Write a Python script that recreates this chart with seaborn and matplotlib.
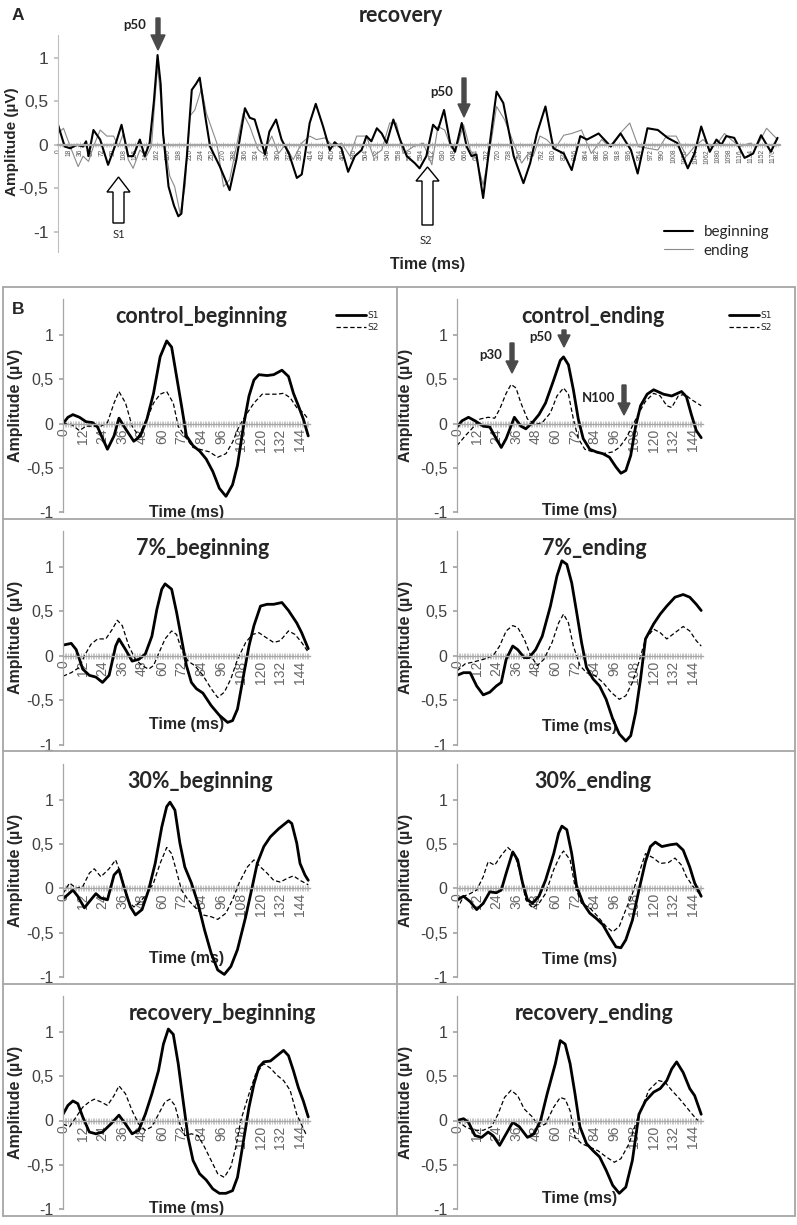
import matplotlib
matplotlib.use('Agg')
import matplotlib.pyplot as plt
from matplotlib.transforms import Affine2D
from matplotlib.patches import FancyArrow
from matplotlib.lines import Line2D
import seaborn as sns

W, H = 797, 1225

# ---- panel A: recovery, whole trial (ms, µV)
a_beg_t = [0, 11, 20, 31, 41, 46, 50, 58, 69, 82, 93, 104, 115, 123, 134, 142, 150, 157, 163, 168,
           172, 181, 190, 197, 202, 211, 219, 226, 232, 241, 249, 265, 281, 292, 306, 314, 322, 339, 346, 357,
           366, 378, 391, 399, 404, 412, 422, 434, 445, 453, 464, 475, 486, 497, 505, 513, 522, 530, 538, 549,
           560, 571, 584, 592, 603, 614, 622, 632, 642, 650, 661, 669, 677, 685, 696, 707, 718, 729, 746, 762,
           773, 784, 798, 811, 828, 841, 855, 866, 885, 905, 921, 938, 949, 965, 982, 998, 1014, 1031, 1042, 1053,
           1067, 1078, 1086, 1094, 1107, 1124, 1138, 1151, 1167, 1178]
a_beg_v = [0.23, -0.02, -0.04, 0.0, -0.02, 0.04, -0.13, 0.17, 0.06, -0.23, -0.02, 0.23, -0.13, -0.13, 0.06, -0.13, 0.02, 0.5, 1.03, 0.7,
           0.13, -0.48, -0.7, -0.82, -0.79, -0.13, 0.63, 0.7, 0.77, 0.33, -0.02, -0.25, -0.52, -0.17, 0.42, 0.31, 0.29, -0.11, 0.15, 0.29,
           0.06, -0.1, -0.38, -0.34, -0.13, 0.25, 0.47, 0.21, -0.06, 0.03, -0.04, -0.31, -0.13, -0.06, 0.1, 0.04, 0.19, 0.13, 0.02, 0.29,
           0.06, -0.13, -0.21, -0.27, -0.13, 0.23, 0.17, 0.40, 0.02, -0.08, 0.25, -0.02, -0.13, -0.11, -0.61, 0.02, 0.61, 0.48, -0.13, -0.44,
           -0.21, 0.13, 0.44, -0.04, -0.1, -0.29, 0.1, 0.06, 0.13, -0.02, 0.13, -0.06, -0.33, 0.19, 0.17, 0.08, 0.02, -0.27, -0.1, 0.21,
           -0.08, 0.06, 0.0, 0.1, 0.08, -0.15, -0.1, 0.11, -0.08, 0.08]
a_end_t = [0, 9, 20, 33, 41, 50, 58, 69, 80, 91, 99, 107, 115, 123, 134, 145, 153, 158, 163, 168,
           172, 183, 191, 200, 208, 216, 224, 235, 243, 260, 271, 281, 292, 303, 314, 328, 336, 350, 361, 372,
           385, 399, 412, 423, 437, 451, 464, 478, 489, 505, 516, 530, 543, 554, 565, 582, 598, 612, 622, 633,
           644, 655, 664, 675, 685, 696, 707, 718, 731, 748, 759, 770, 778, 789, 800, 814, 828, 841, 857, 873,
           890, 903, 920, 936, 950, 966, 982, 996, 1012, 1029, 1042, 1056, 1069, 1080, 1091, 1102, 1116, 1133, 1144, 1160,
           1178]
a_end_v = [0.13, 0.19, -0.02, -0.25, -0.13, -0.19, -0.02, 0.17, 0.1, 0.1, -0.02, 0.13, -0.17, -0.27, -0.06, -0.13, -0.02, 0.45, 0.9, 0.55,
           0.13, -0.36, -0.48, -0.79, -0.48, 0.33, 0.4, 0.65, 0.36, 0.02, -0.48, -0.4, -0.02, 0.36, 0.21, -0.06, -0.1, 0.1, -0.1, 0.0,
           -0.17, 0.02, 0.1, 0.06, 0.08, -0.02, 0.02, -0.13, 0.1, 0.1, -0.13, -0.06, 0.25, 0.25, -0.1, -0.02, 0.02, -0.23, 0.21, 0.17,
           -0.04, 0.02, 0.23, -0.06, -0.17, -0.46, -0.06, 0.44, 0.29, -0.02, -0.21, -0.1, -0.13, 0.1, 0.06, -0.04, 0.11, 0.13, 0.17, -0.1,
           0.06, -0.02, 0.13, 0.25, -0.02, -0.04, -0.06, 0.1, 0.1, -0.13, -0.02, 0.06, -0.02, 0.02, 0.13, 0.06, -0.02, 0.02, -0.02, 0.19,
           0.06]
a_ticks = list(range(0, 1171, 18))

# ---- panel B: S1 / S2 responses (ms, µV)
cb_s1_t = [0, 3, 6, 10, 14, 18, 21, 27, 31, 34, 38, 43, 47, 51, 55, 59, 63, 66, 69, 72, 75, 79, 83, 87, 91, 95, 99, 103, 106, 110, 113, 116, 119, 124, 128, 133, 137, 140, 143, 146, 149]
cb_s1_v = [0, 0.07, 0.10, 0.07, 0.02, 0.01, -0.04, -0.29, -0.14, 0.06, -0.06, -0.2, -0.14, 0.05, 0.34, 0.75, 0.93, 0.86, 0.53, 0.2, -0.14, -0.25, -0.31, -0.4, -0.54, -0.73, -0.82, -0.69, -0.47, 0.01, 0.31, 0.49, 0.55, 0.54, 0.55, 0.6, 0.53, 0.34, 0.2, 0.05, -0.14]
cb_s2_t = [0, 5, 10, 14, 18, 22, 27, 31, 34, 38, 42, 46, 51, 55, 59, 63, 67, 70, 75, 79, 83, 89, 94, 99, 103, 107, 112, 116, 121, 126, 130, 134, 138, 142, 146, 149]
cb_s2_v = [0, -0.01, -0.08, -0.03, -0.03, -0.04, 0.01, 0.23, 0.36, 0.23, -0.03, -0.14, 0.05, 0.23, 0.33, 0.36, 0.23, -0.03, -0.17, -0.27, -0.29, -0.32, -0.38, -0.34, -0.21, -0.03, 0.12, 0.23, 0.33, 0.33, 0.33, 0.34, 0.29, 0.18, 0.12, 0.05]

ce_s1_t = [0, 3, 7, 11, 16, 20, 23, 27, 30, 35, 39, 42, 46, 50, 54, 59, 63, 65, 68, 71, 74, 77, 81, 85, 89, 93, 97, 100, 103, 106, 109, 112, 116, 120, 126, 131, 137, 140, 143, 146, 149]
ce_s1_v = [-0.04, 0.03, 0.07, 0.03, -0.03, -0.04, -0.14, -0.27, -0.17, 0.07, -0.03, -0.06, 0.01, 0.1, 0.23, 0.49, 0.71, 0.75, 0.66, 0.38, 0.05, -0.17, -0.29, -0.32, -0.34, -0.38, -0.49, -0.56, -0.53, -0.36, -0.03, 0.2, 0.33, 0.38, 0.33, 0.31, 0.36, 0.3, 0.1, -0.08, -0.16]
ce_s2_t = [0, 5, 10, 14, 19, 23, 26, 30, 33, 36, 39, 43, 48, 52, 57, 61, 65, 68, 71, 74, 78, 83, 89, 95, 99, 103, 107, 111, 115, 120, 124, 128, 131, 135, 139, 143, 149]
ce_s2_v = [-0.25, -0.14, -0.04, 0.05, 0.07, 0.06, 0.16, 0.34, 0.44, 0.4, 0.23, 0.05, -0.01, 0.01, 0.12, 0.31, 0.4, 0.33, 0.05, -0.17, -0.29, -0.32, -0.34, -0.32, -0.27, -0.17, -0.03, 0.12, 0.25, 0.34, 0.31, 0.2, 0.18, 0.31, 0.33, 0.27, 0.2]

p7b_s1_t = [0, 5, 8, 12, 16, 20, 24, 28, 32, 34, 38, 42, 46, 50, 54, 57, 60, 62, 66, 69, 72, 75, 78, 81, 85, 90, 95, 100, 103, 106, 110, 113, 116, 120, 124, 128, 133, 137, 142, 145, 149]
p7b_s1_v = [0.12, 0.14, 0.07, -0.15, -0.22, -0.24, -0.3, -0.22, 0.11, 0.19, 0.07, -0.06, -0.04, 0.02, 0.22, 0.52, 0.75, 0.81, 0.75, 0.49, 0.19, -0.11, -0.3, -0.37, -0.42, -0.56, -0.67, -0.75, -0.73, -0.6, -0.19, 0.11, 0.34, 0.56, 0.58, 0.58, 0.6, 0.51, 0.37, 0.26, 0.08]
p7b_s2_t = [0, 5, 10, 13, 17, 21, 26, 30, 33, 36, 40, 44, 48, 52, 55, 58, 62, 66, 69, 72, 76, 80, 85, 90, 94, 98, 102, 106, 111, 115, 119, 123, 128, 132, 137, 141, 145, 149]
p7b_s2_v = [-0.23, -0.19, -0.13, 0, 0.13, 0.19, 0.19, 0.3, 0.4, 0.34, 0.11, -0.04, -0.11, -0.15, -0.11, 0.02, 0.19, 0.28, 0.24, 0.07, -0.06, -0.11, -0.22, -0.37, -0.47, -0.41, -0.26, -0.04, 0.15, 0.24, 0.26, 0.21, 0.15, 0.17, 0.28, 0.24, 0.15, 0.04]

p7e_s1_t = [0, 4, 8, 12, 16, 20, 24, 27, 30, 34, 37, 41, 44, 48, 52, 57, 61, 64, 67, 70, 73, 76, 79, 83, 87, 91, 95, 99, 103, 106, 109, 112, 115, 120, 124, 128, 133, 138, 142, 146, 149]
p7e_s1_v = [-0.22, -0.19, -0.19, -0.34, -0.44, -0.41, -0.34, -0.3, -0.04, 0.11, 0.07, -0.02, -0.02, 0.07, 0.22, 0.56, 0.9, 1.07, 1.03, 0.82, 0.49, 0.15, -0.13, -0.26, -0.34, -0.49, -0.71, -0.88, -0.96, -0.9, -0.64, -0.26, 0.19, 0.36, 0.47, 0.56, 0.66, 0.69, 0.66, 0.58, 0.51]
p7e_s2_t = [0, 5, 10, 16, 22, 26, 30, 34, 37, 41, 45, 49, 53, 58, 62, 65, 68, 71, 75, 79, 84, 89, 94, 99, 103, 107, 111, 115, 120, 124, 128, 133, 138, 142, 146, 149]
p7e_s2_v = [-0.17, -0.09, -0.07, -0.04, 0, 0.11, 0.28, 0.34, 0.32, 0.19, 0, -0.11, -0.04, 0.15, 0.37, 0.47, 0.37, 0.11, -0.11, -0.19, -0.22, -0.3, -0.41, -0.49, -0.45, -0.3, -0.07, 0.19, 0.3, 0.26, 0.19, 0.26, 0.33, 0.28, 0.17, 0.11]

p30b_s1_t = [0, 3, 6, 9, 13, 16, 20, 23, 27, 31, 34, 37, 41, 44, 48, 52, 56, 60, 63, 65, 68, 71, 74, 78, 82, 86, 90, 94, 98, 102, 106, 111, 115, 118, 122, 126, 131, 135, 137, 139, 142, 144, 147, 149]
p30b_s1_v = [-0.12, -0.07, -0.02, -0.09, -0.22, -0.15, -0.06, -0.11, -0.13, 0.15, 0.21, 0.02, -0.21, -0.3, -0.24, -0.02, 0.28, 0.69, 0.92, 0.97, 0.88, 0.51, 0.24, 0.06, -0.17, -0.47, -0.73, -0.92, -0.97, -0.88, -0.69, -0.32, 0.02, 0.28, 0.47, 0.58, 0.67, 0.73, 0.76, 0.73, 0.51, 0.28, 0.15, 0.09]
p30b_s2_t = [0, 4, 8, 12, 16, 19, 23, 28, 32, 35, 39, 43, 47, 51, 55, 59, 63, 66, 69, 72, 76, 80, 85, 90, 94, 99, 103, 107, 112, 116, 120, 124, 128, 132, 136, 140, 144, 149]
p30b_s2_v = [-0.06, 0.06, 0, 0.02, 0.17, 0.22, 0.13, 0.22, 0.32, 0.17, -0.13, -0.21, -0.15, -0.06, 0.06, 0.28, 0.46, 0.39, 0.19, -0.02, -0.13, -0.21, -0.3, -0.32, -0.35, -0.28, -0.13, 0.06, 0.24, 0.32, 0.24, 0.17, 0.09, 0.07, 0.11, 0.14, 0.09, 0.04]

p30e_s1_t = [0, 4, 8, 12, 16, 20, 24, 27, 30, 34, 37, 40, 43, 46, 50, 54, 59, 62, 64, 67, 70, 73, 77, 81, 85, 89, 93, 97, 100, 103, 107, 111, 115, 118, 121, 125, 130, 134, 138, 142, 145, 149]
p30e_s1_v = [-0.13, -0.09, -0.15, -0.24, -0.17, -0.04, -0.05, -0.02, 0.17, 0.41, 0.32, 0.06, -0.13, -0.17, -0.09, 0.09, 0.39, 0.62, 0.7, 0.66, 0.39, 0.02, -0.17, -0.28, -0.34, -0.41, -0.54, -0.66, -0.67, -0.58, -0.36, -0.02, 0.3, 0.47, 0.52, 0.47, 0.49, 0.5, 0.43, 0.24, 0.06, -0.09]
p30e_s2_t = [0, 4, 8, 12, 16, 19, 23, 27, 31, 35, 38, 42, 46, 50, 54, 59, 63, 65, 69, 72, 76, 81, 86, 91, 95, 99, 103, 107, 111, 115, 120, 124, 129, 133, 137, 140, 144, 148]
p30e_s2_v = [-0.24, -0.09, -0.06, -0.02, 0.13, 0.3, 0.26, 0.37, 0.46, 0.39, 0.21, -0.13, -0.22, -0.17, -0.06, 0.21, 0.37, 0.42, 0.32, 0.02, -0.17, -0.22, -0.32, -0.43, -0.49, -0.43, -0.24, -0.06, 0.17, 0.39, 0.34, 0.28, 0.29, 0.34, 0.26, 0.13, 0.02, -0.06]

recb_s1_t = [0, 3, 6, 9, 12, 16, 20, 24, 29, 34, 38, 42, 46, 50, 54, 58, 61, 64, 67, 70, 73, 76, 79, 83, 87, 91, 95, 99, 103, 106, 110, 113, 116, 119, 122, 126, 130, 134, 137, 140, 143, 146, 149]
recb_s1_v = [0.07, 0.17, 0.22, 0.19, 0.04, -0.13, -0.15, -0.13, -0.04, 0.06, -0.04, -0.15, -0.11, 0.07, 0.3, 0.56, 0.86, 1.03, 0.97, 0.64, 0.22, -0.19, -0.45, -0.6, -0.67, -0.77, -0.82, -0.82, -0.79, -0.64, -0.19, 0.15, 0.41, 0.6, 0.66, 0.67, 0.73, 0.79, 0.73, 0.56, 0.37, 0.22, 0.04]
recb_s2_t = [0, 4, 8, 12, 16, 19, 23, 27, 31, 34, 38, 42, 46, 50, 54, 58, 62, 65, 68, 71, 74, 78, 82, 86, 90, 94, 98, 102, 105, 108, 113, 117, 122, 126, 130, 134, 138, 142, 146, 148]
recb_s2_v = [-0.04, -0.07, 0.04, 0.15, 0.21, 0.24, 0.21, 0.17, 0.28, 0.39, 0.3, 0.11, -0.04, -0.11, -0.07, 0.07, 0.21, 0.24, 0.17, -0.04, -0.17, -0.15, -0.17, -0.3, -0.45, -0.6, -0.64, -0.52, -0.3, 0, 0.3, 0.52, 0.64, 0.59, 0.51, 0.45, 0.34, 0.07, -0.09, -0.17]

rece_s1_t = [0, 4, 7, 11, 15, 19, 22, 26, 30, 34, 38, 43, 47, 51, 55, 60, 63, 66, 69, 72, 75, 79, 83, 87, 91, 95, 99, 103, 107, 111, 115, 120, 124, 128, 131, 134, 138, 142, 145, 149]
rece_s1_v = [0, 0.02, -0.02, -0.17, -0.19, -0.13, -0.17, -0.28, -0.15, -0.02, -0.07, -0.19, -0.15, 0, 0.3, 0.64, 0.9, 0.86, 0.64, 0.3, -0.07, -0.26, -0.34, -0.41, -0.56, -0.73, -0.82, -0.75, -0.45, 0.07, 0.22, 0.32, 0.36, 0.45, 0.58, 0.66, 0.54, 0.36, 0.28, 0.07]
rece_s2_t = [0, 5, 10, 16, 21, 25, 29, 33, 37, 41, 46, 50, 54, 59, 63, 66, 69, 72, 76, 81, 86, 91, 96, 100, 105, 109, 113, 117, 123, 127, 131, 136, 140, 144, 147]
rece_s2_v = [0, -0.07, -0.11, -0.11, -0.07, 0.07, 0.26, 0.34, 0.28, 0.13, 0.04, -0.07, -0.04, 0.15, 0.26, 0.24, 0.11, -0.19, -0.26, -0.3, -0.34, -0.41, -0.47, -0.43, -0.26, -0.04, 0.15, 0.34, 0.45, 0.43, 0.34, 0.24, 0.15, 0.06, 0]

b_ticks = list(range(0, 145, 12))
amp_ticks = [-1, -0.5, 0, 0.5, 1]
amp_labels = ['-1', '-0,5', '0', '0,5', '1']

panels = [
    ('control_beginning', cb_s1_t, cb_s1_v, cb_s2_t, cb_s2_v),
    ('control_ending', ce_s1_t, ce_s1_v, ce_s2_t, ce_s2_v),
    ('7%_beginning', p7b_s1_t, p7b_s1_v, p7b_s2_t, p7b_s2_v),
    ('7%_ending', p7e_s1_t, p7e_s1_v, p7e_s2_t, p7e_s2_v),
    ('30%_beginning', p30b_s1_t, p30b_s1_v, p30b_s2_t, p30b_s2_v),
    ('30%_ending', p30e_s1_t, p30e_s1_v, p30e_s2_t, p30e_s2_v),
    ('recovery_beginning', recb_s1_t, recb_s1_v, recb_s2_t, recb_s2_v),
    ('recovery_ending', rece_s1_t, rece_s1_v, rece_s2_t, rece_s2_v),
]

sns.set_theme(style='white')
plt.rcParams['font.family'] = ['Liberation Sans', 'DejaVu Sans']

fig = plt.figure(figsize=(W / 100, H / 100), dpi=100)
px = Affine2D().scale(1 / W, -1 / H).translate(0, 1) + fig.transFigure


def rect(x0, y0, x1, y1):
    return [x0 / W, 1 - y1 / H, (x1 - x0) / W, (y1 - y0) / H]


def down_arrow(x, y0, y1, hw=13, hl=13):
    fig.add_artist(FancyArrow(x, y0, 0, y1 - y0, width=4, head_width=hw, head_length=hl,
                              length_includes_head=True, color='#4a4a4a', transform=px))


GRID = '#a6a6a6'

# ================= panel A =================
axA = fig.add_axes(rect(58, 35, 780, 252))
sns.lineplot(x=a_end_t, y=a_end_v, ax=axA, color='#8a8a8a', linewidth=0.8, estimator=None, sort=False)
sns.lineplot(x=a_beg_t, y=a_beg_v, ax=axA, color='black', linewidth=1.5, estimator=None, sort=False)
axA.set_xlim(0, 1182)
axA.set_ylim(-1.23, 1.26)
for s in ['top', 'right']:
    axA.spines[s].set_visible(False)
axA.spines['bottom'].set_position(('data', 0))
axA.spines['bottom'].set_color(GRID)
axA.spines['bottom'].set_linewidth(1.6)
axA.spines['left'].set_color('#bfbfbf')
axA.spines['left'].set_linewidth(0.8)
axA.set_xticks(a_ticks)
axA.set_xticklabels([str(t) for t in a_ticks], rotation=90, fontsize=4.8, color='#555555')
axA.set_xticks(range(0, 1182, 3), minor=True)
axA.tick_params(axis='x', which='both', bottom=True, direction='inout', length=4, width=0.5,
                color=GRID, pad=1)
axA.tick_params(axis='x', which='minor', length=3, width=0.4)
axA.set_yticks(amp_ticks)
axA.set_yticklabels(amp_labels, fontsize=12.5, color='#404040')
axA.tick_params(axis='y', left=True, direction='out', length=3, color='#bfbfbf', pad=4)
axA.set_xlabel('Time (ms)', fontsize=11.5, fontweight='bold', va='center')
axA.xaxis.set_label_coords(428, 265, transform=px)
axA.set_ylabel('Amplitude (µV)', fontsize=11, fontweight='bold', va='center')
axA.yaxis.set_label_coords(12, 142, transform=px)
axA.legend(handles=[Line2D([], [], color='black', lw=1.5), Line2D([], [], color='#8a8a8a', lw=0.8)],
           labels=['beginning', 'ending'], loc='upper left', bbox_to_anchor=(664, 225),
           bbox_transform=px, frameon=False, prop={'family': 'Lato', 'size': 11},
           handlelength=1.9, handletextpad=0.7, labelspacing=0.3, borderpad=0, borderaxespad=0)

fig.text(18, 16, 'A', transform=px, fontsize=12.5, fontweight='bold', ha='center', va='center')
fig.text(401, 16, 'recovery', transform=px, fontsize=15.5, fontweight='bold', family='Lato',
         ha='center', va='center')
fig.text(135, 25, 'p50', transform=px, fontsize=9.5, fontweight='bold', family='Lato',
         ha='center', va='center', color='#222222')
down_arrow(158, 18, 50, hw=14, hl=15)
fig.text(442, 92, 'p50', transform=px, fontsize=9.5, fontweight='bold', family='Lato',
         ha='center', va='center', color='#222222')
down_arrow(464, 78, 117, hw=12, hl=13)
fig.add_artist(FancyArrow(118.5, 223, 0, -46, width=11, head_width=23, head_length=15,
                          length_includes_head=True, fc='white', ec='black', lw=1, transform=px))
fig.add_artist(FancyArrow(427.5, 225, 0, -58, width=11, head_width=23, head_length=14,
                          length_includes_head=True, fc='white', ec='black', lw=1, transform=px))
fig.text(119, 234, 'S1', transform=px, fontsize=8, family='Lato', ha='center', va='center')
fig.text(426, 240, 'S2', transform=px, fontsize=8, family='Lato', ha='center', va='center')

# ================= panel B =================
for yy in [287, 519, 751, 984, 1216]:
    fig.add_artist(Line2D([3, 795], [yy, yy], color=GRID, lw=1.3, transform=px))
for xx in [3, 397, 795]:
    fig.add_artist(Line2D([xx, xx], [287, 1216], color=GRID, lw=1.3, transform=px))
fig.text(18, 309, 'B', transform=px, fontsize=12.5, fontweight='bold', ha='center', va='center')

col_x0 = [63, 457]
col_scale = [1.646, 1.639]
row_zero = [423.5, 655.8, 888.3, 1120.5]
unit = 88.8
title_x = [[201, 593], [203, 594], [200, 593], [222, 594]]
xlab_x = [187, 580]
xlab_dy = [[88.5, 86.5], [69, 71], [70, 71], [88, 78]]
ylab_x = [16, 406]

for i, (name, t1, v1, t2, v2) in enumerate(panels):
    r, c = divmod(i, 2)
    x0 = col_x0[c]
    x1 = x0 + 150 * col_scale[c]
    z = row_zero[r]
    y0 = z - 1.4 * unit
    y1 = z + unit
    ax = fig.add_axes(rect(x0, y0, x1, y1))
    sns.lineplot(x=t2, y=v2, ax=ax, color='black', linewidth=0.9, linestyle=(0, (3.5, 2)),
                 estimator=None, sort=False)
    sns.lineplot(x=t1, y=v1, ax=ax, color='black', linewidth=2.0, estimator=None, sort=False)
    ax.set_xlim(0, 150)
    ax.set_ylim(-1, 1.4)
    for s in ['top', 'right']:
        ax.spines[s].set_visible(False)
    ax.spines['bottom'].set_position(('data', 0))
    ax.spines['bottom'].set_color(GRID)
    ax.spines['bottom'].set_linewidth(1.0)
    ax.spines['left'].set_color(GRID)
    ax.spines['left'].set_linewidth(0.9)
    ax.set_xticks(b_ticks)
    ax.set_xticklabels([str(t) for t in b_ticks], rotation=90, fontsize=10, color='#666666',
                       family=['Liberation Sans Narrow', 'Liberation Sans'])
    ax.set_xticks(range(0, 150, 1), minor=True)
    ax.tick_params(axis='x', which='both', bottom=True, direction='inout', length=5, width=0.45,
                   color=GRID, pad=1)
    ax.set_yticks(amp_ticks)
    ax.set_yticklabels(amp_labels, fontsize=11.5, color='#404040')
    ax.tick_params(axis='y', left=True, direction='out', length=3, color=GRID, pad=4)
    ax.set_title(name, fontsize=15.5, fontweight='bold', family='Lato', va='center', pad=0,
                 x=(title_x[r][c] - x0) / (x1 - x0), y=(y1 - (z - 107)) / (y1 - y0))
    ax.set_xlabel('Time (ms)', fontsize=11.5, fontweight='bold', va='center')
    ax.xaxis.set_label_coords(xlab_x[c], z + xlab_dy[r][c], transform=px)
    ax.set_ylabel('Amplitude (µV)', fontsize=11.5, fontweight='bold', va='center')
    ax.yaxis.set_label_coords(ylab_x[c], z - 18, transform=px)
    if r == 0:
        lx = 336 if c == 0 else 729
        ax.legend(handles=[Line2D([], [], color='black', lw=2.0),
                           Line2D([], [], color='black', lw=0.9, ls=(0, (3.5, 2)))],
                  labels=['S1', 'S2'], loc='upper left', bbox_to_anchor=(lx, 311),
                  bbox_transform=px, frameon=False, prop={'family': 'DejaVu Sans', 'size': 6.5},
                  handlelength=3.3, handletextpad=0.2, labelspacing=0.35, borderpad=0, borderaxespad=0)

# peak markers in control_ending
fig.text(491, 355, 'p30', transform=px, fontsize=9.5, fontweight='bold', family='Lato',
         ha='center', va='center', color='#222222')
down_arrow(512, 343, 373, hw=12, hl=12)
fig.text(541, 337, 'p50', transform=px, fontsize=9.5, fontweight='bold', family='Lato',
         ha='center', va='center', color='#222222')
down_arrow(564, 330, 347, hw=12, hl=12)
fig.text(599, 398, 'N100', transform=px, fontsize=9.5, fontweight='bold', family='Lato',
         ha='center', va='center', color='#222222')
down_arrow(624, 385, 415, hw=12, hl=12)

fig.savefig('out.png', dpi=100)
